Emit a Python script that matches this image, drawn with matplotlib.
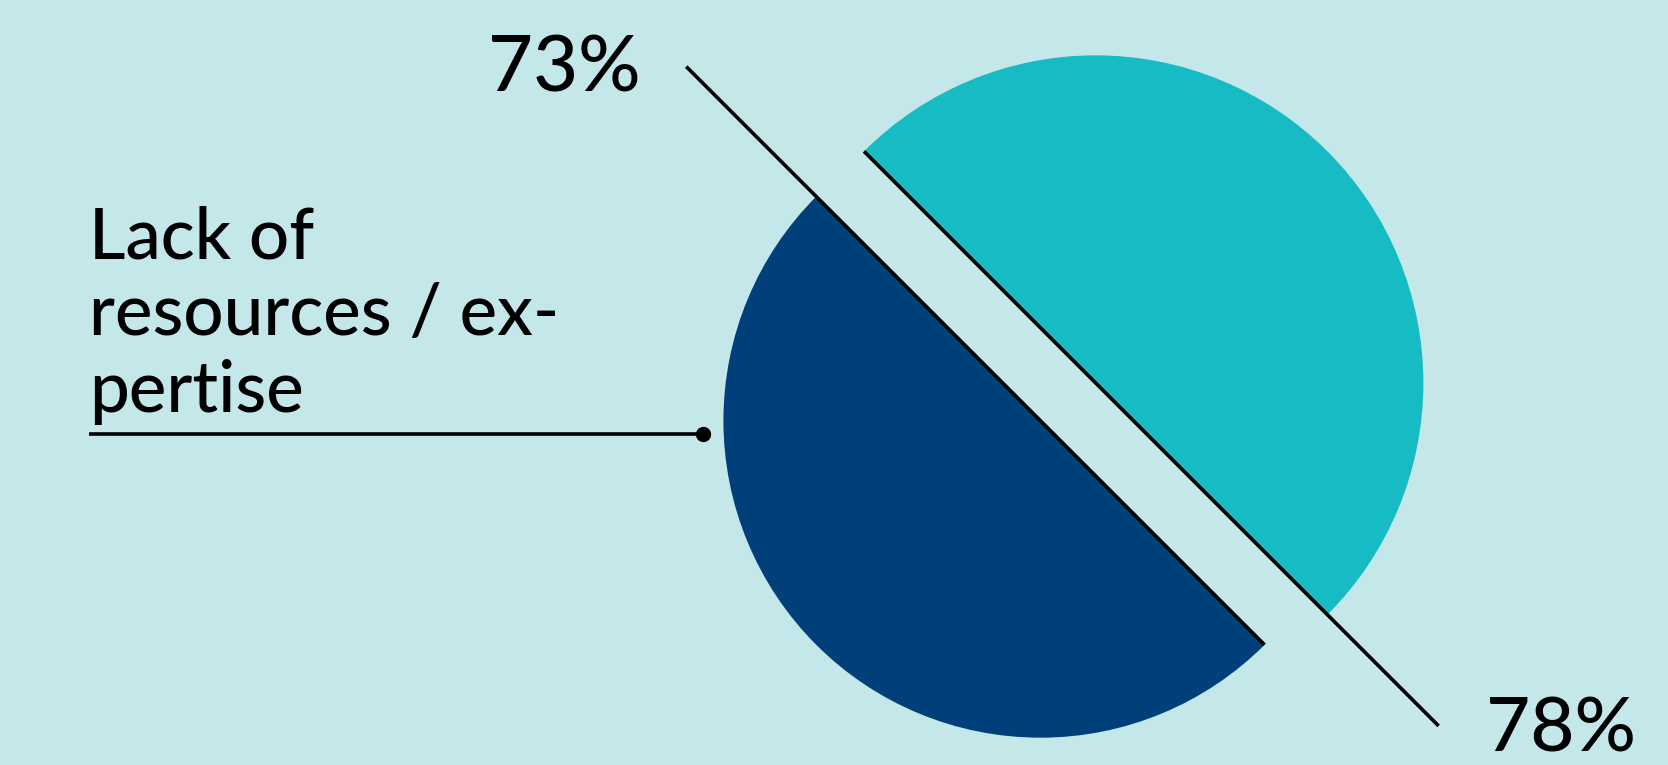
import numpy as np
import matplotlib
matplotlib.use("Agg")
import matplotlib.pyplot as plt
from matplotlib.patches import Wedge

# Data
values = [73, 78]
value_labels = ["73%", "78%"]
category = "Lack of\nresources / ex-\npertise"
colors = ["#00407A", "#16BBC3"]
bg = "#C4E7E9"

W, H = 1668, 765
fig = plt.figure(figsize=(W / 100, H / 100), dpi=100)
fig.patch.set_facecolor(bg)
ax = fig.add_axes([0, 0, 1, 1])
ax.set_xlim(0, W)
ax.set_ylim(H, 0)
ax.set_facecolor(bg)
ax.axis("off")

font = ["Lato", "DejaVu Sans"]

# area-proportional radius
k = 37.1
radii = [k * np.sqrt(v) for v in values]
centers = [(1040.4, 420.7), (1095.7, 383.0)]
# y axis inverted (y down): 45deg points down-right visually
spans = [(45, 225), (225, 405)]  # dark: lower-left half, teal: upper-right half
d = np.array([np.cos(np.radians(45)), np.sin(np.radians(45))])  # down-right direction

for (cx, cy), r, c, (a0, a1) in zip(centers, radii, colors, spans):
    ax.add_patch(Wedge((cx, cy), r, a0, a1, facecolor=c, edgecolor="none"))

# black edge lines
ext = [(1.58, 1.0), (1.0, 1.48)]  # (upper-left factor, lower-right factor)
for (cx, cy), r, (e0, e1) in zip(centers, radii, ext):
    p0 = np.array([cx, cy]) - d * r * e0
    p1 = np.array([cx, cy]) + d * r * e1
    ax.plot([p0[0], p1[0]], [p0[1], p1[1]], color="black", lw=2.6,
            solid_capstyle="butt")

# value labels
ax.text(641, 91, value_labels[0], ha="right", va="baseline", fontsize=56,
        family=font, weight="medium", color="black")
ax.text(1486, 752, value_labels[1], ha="left", va="baseline", fontsize=55,
        family=font, weight="medium", color="black")

# category label (baseline refers to last line)
ax.text(89, 412, category, ha="left", va="baseline", fontsize=51,
        family=font, weight="medium", color="black", linespacing=1.2)
ax.plot([89, 703], [434, 434], color="black", lw=2.6, solid_capstyle="butt")
ax.plot([703], [434], marker="o", markersize=10, color="black")

fig.savefig("out.png", dpi=100, facecolor=bg)
